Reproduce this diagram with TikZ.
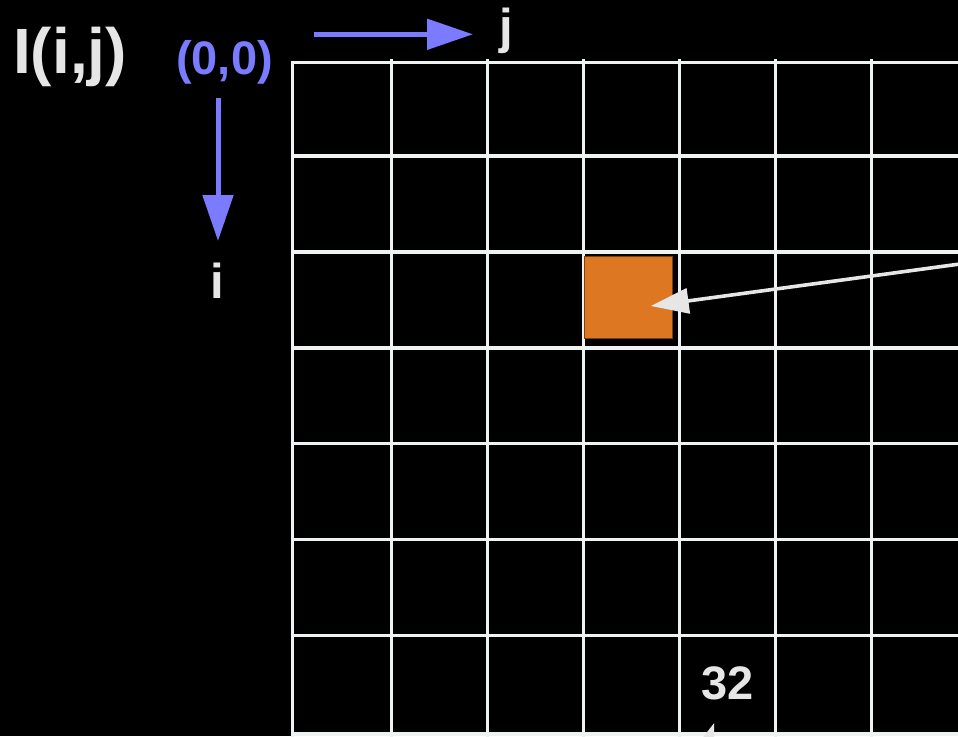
\documentclass[tikz,border=0pt]{standalone}
\usepackage{fontspec}
\setmainfont{Liberation Sans}
\usetikzlibrary{arrows.meta}
\definecolor{txtgray}{HTML}{E6E6E6}
\definecolor{axblue}{HTML}{7B7BFF}
\definecolor{gridc}{HTML}{EEF2F2}
\definecolor{pix}{HTML}{DD7722}
\definecolor{pixb}{HTML}{7A3E10}
\begin{document}
\begin{tikzpicture}[x=1pt,y=-1pt,
  lbl/.style={inner sep=0pt,anchor=base,font=\bfseries},
  gridline/.style={draw=gridc,line width=3.4pt},
  bluearrow/.style={draw=axblue,line width=5pt,-{Triangle[length=46pt,width=30pt]}},
  grayarrow/.style={draw=txtgray,line width=3.6pt,-{Triangle[length=38pt,width=25pt]}},
  pixbox/.style={fill=pix,draw=pixb,line width=0.8pt,inner sep=0pt,minimum width=88pt,minimum height=82pt}
]
\useasboundingbox (0,0) rectangle (958,736);
\clip (0,0) rectangle (958,736);
\fill[black] (0,0) rectangle (958,736);
% grid
\foreach \yy in {62.3,156,252,348,443.5,539.5,635.5,734}
  \draw[gridline] (292.3,\yy) -- (970,\yy);
\draw[gridline] (292.3,60.8) -- (292.3,745);
\foreach \xx in {391.3,487.3,583.3,679.3,775.3,871.3}
  \draw[gridline] (\xx,58.5) -- (\xx,745);
% pixel
\node[pixbox] (px) at (628.5,297.8) {};
% labels
\node[lbl,text=txtgray,font=\bfseries\fontsize{64}{64}\selectfont] (title) at (70,73) {I(i,j)};
\node[lbl,text=axblue,font=\bfseries\fontsize{47}{47}\selectfont] (origin) at (224.5,74) {(0,0)};
\node[lbl,text=txtgray,font=\bfseries\fontsize{49}{49}\selectfont] (jl) at (506,43) {j};
\node[lbl,text=txtgray,font=\bfseries\fontsize{49}{49}\selectfont] (il) at (217.5,298) {i};
\node[lbl,text=txtgray,font=\bfseries\fontsize{47}{47}\selectfont] (n32) at (727.7,699) {32};
% axis arrows
\coordinate (jstart) at (314,34.3);
\coordinate (jend) at (473,34.3);
\coordinate (istart) at (218,98);
\coordinate (iend) at (218,241);
\draw[bluearrow] (jstart) -- (jend);
\draw[bluearrow] (istart) -- (iend);
% gray pointers
\coordinate (pfrom) at (1010,257.2);
\coordinate (ptip) at (650.7,306);
\draw[grayarrow] (pfrom) -- (ptip);
\coordinate (bfrom) at (681.5,818);
\coordinate (btip) at (714.3,722.7);
\draw[grayarrow] (bfrom) -- (btip);
\end{tikzpicture}
\end{document}
